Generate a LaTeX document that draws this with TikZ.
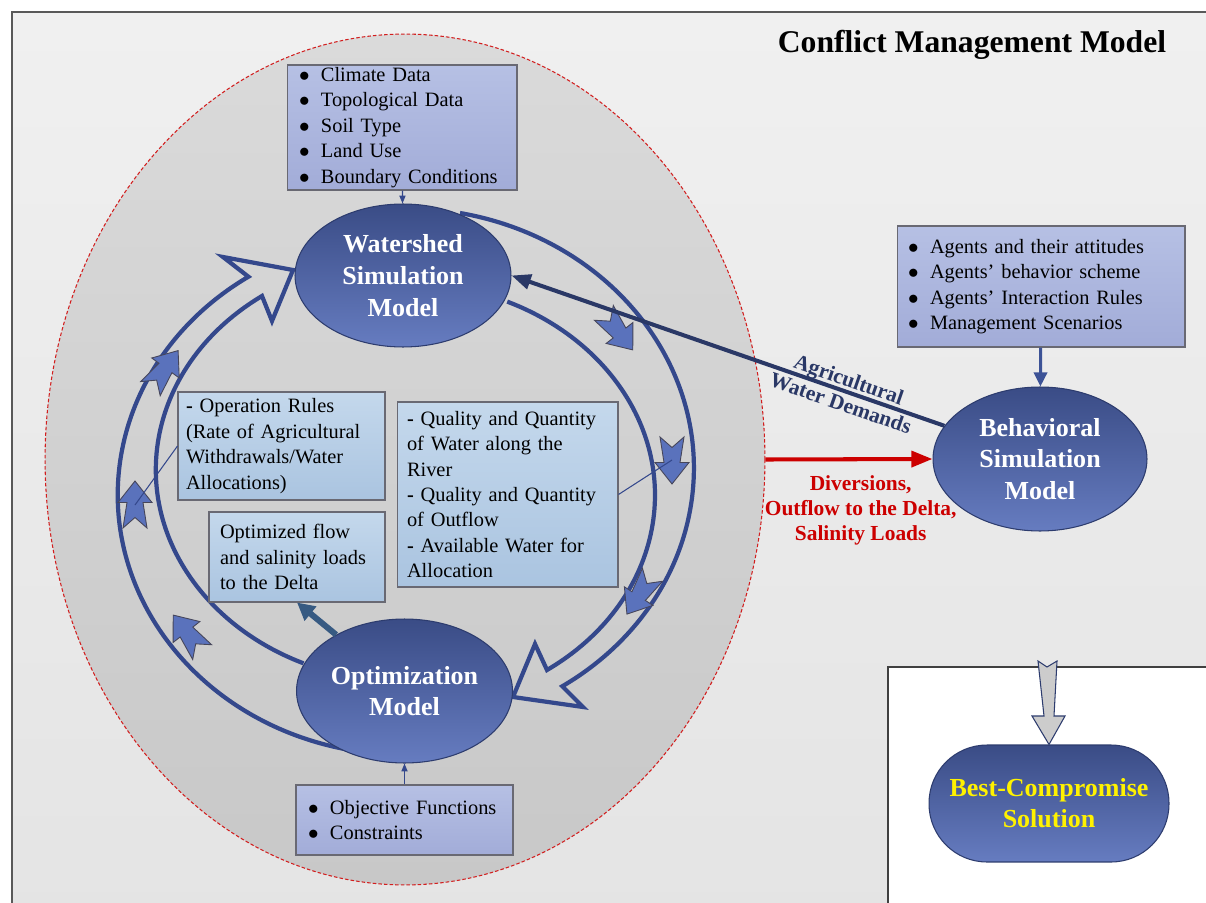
\documentclass[tikz,border=0pt]{standalone}
\usepackage{fontspec}
\setmainfont{Liberation Serif}
\usetikzlibrary{arrows.meta,shapes.geometric}

\definecolor{ring}{RGB}{52,72,140}
\definecolor{modline}{RGB}{45,60,110}
\definecolor{modtop}{RGB}{58,76,134}
\definecolor{modbot}{RGB}{102,124,192}
\definecolor{navy}{RGB}{42,56,102}
\definecolor{lavtop}{RGB}{182,192,228}
\definecolor{lavbot}{RGB}{162,172,216}
\definecolor{skytop}{RGB}{196,216,236}
\definecolor{skybot}{RGB}{170,196,224}
\definecolor{boxline}{RGB}{105,105,115}
\definecolor{chev}{RGB}{90,114,188}
\definecolor{chevline}{RGB}{70,70,90}
\definecolor{divred}{RGB}{204,0,0}
\definecolor{steel}{RGB}{55,90,130}
\definecolor{agentblue}{RGB}{60,82,150}
\definecolor{framtop}{RGB}{240,240,240}
\definecolor{frambot}{RGB}{228,228,228}
\definecolor{basintop}{RGB}{218,218,218}
\definecolor{basinbot}{RGB}{200,200,200}
\definecolor{basinred}{RGB}{210,30,30}

\newcommand{\bul}{\makebox[12.5pt][l]{$\bullet$}}
\newcommand{\flowmark}[3]{%
	\coordinate (#1) at (#2);
	\draw[chevron,shift={(#2)},rotate=#3] (24,0) -- (2.5,17) -- (2.5,8) -- (-23,12) -- (-12.5,0) -- (-23,-12) -- (2.5,-8) -- (2.5,-17) -- cycle;}

\begin{document}
\begin{tikzpicture}
	[x=0.02cm,y=-0.02cm,
	model/.style={ellipse,draw=modline,line width=0.6pt,top color=modtop,bottom color=modbot,inner sep=0pt,text=white,align=center,font=\bfseries\fontsize{14.8}{18.1}\selectfont},
	listbox/.style={rectangle,draw=boxline,line width=0.6pt,top color=lavtop,bottom color=lavbot,inner ysep=0pt,align=left,font=\fontsize{11.6}{14.5}\selectfont},
	notebox/.style={listbox,top color=skytop,bottom color=skybot},
	ringline/.style={draw=ring,line width=2.4pt,line join=miter},
	chevron/.style={fill=chev,draw=chevline,line width=0.5pt,line join=miter},
	callout/.style={draw=ring,line width=0.6pt},
	feed/.style={draw=ring,line width=0.7pt,-{Triangle[length=4.5pt,width=3.5pt]}}]
	\useasboundingbox (0,0) rectangle (1206,902);
	\clip (0,0) rectangle (1206,902);
	\draw[draw=black!65,line width=0.8pt,top color=framtop,bottom color=frambot] (12,12) rectangle (1230,930);
	\draw[draw=black!75,fill=white,line width=0.8pt] (888,667) rectangle (1230,930);
	\node (title)[font=\bfseries\fontsize{18}{22}\selectfont] at (972,45) {Conflict Management Model};
	\node (basin)[ellipse,draw=basinred,dash pattern=on 2pt off 1.2pt,line width=0.6pt,top color=basintop,bottom color=basinbot,minimum width=14.4cm,minimum height=17.02cm] at (405,459.5) {};

	\draw[ringline] (350,750) arc[start angle=101,end angle=237,x radius=287,y radius=260] -- (223,257) -- (293,270) -- (272,321) -- (262,296) arc[start angle=235,end angle=114,x radius=249,y radius=212];
	\draw[ringline] (460,213) arc[start angle=-79,end angle=57,x radius=289,y radius=260] -- (583,707) -- (513,697) -- (535,644) -- (547,670) arc[start angle=55.5,end angle=-66,x radius=249,y radius=212];

	\flowmark{a1}{164,370}{54}
	\flowmark{a2}{135,505}{90}
	\flowmark{a3}{188,634}{128}
	\flowmark{a4}{618,331}{-52}
	\flowmark{a5}{672,460}{-90}
	\flowmark{a6}{640,594}{-123}

	\node (climate)[listbox,text width=4.12cm,inner xsep=0.24cm,minimum height=2.5cm] at (402,127.5) {\bul Climate Data\\
									\bul Topological Data\\
									\bul Soil Type\\
									\bul Land Use\\
									\bul Boundary Conditions};
	\node (agents)[listbox,text width=5.32cm,inner xsep=0.22cm,minimum height=2.42cm] at (1041,286.5) {\bul Agents and their attitudes\\
									\bul Agents’ behavior scheme\\
									\bul Agents’ Interaction Rules\\
									\bul Management Scenarios};
	\node (obj)[listbox,text width=3.86cm,inner xsep=0.24cm,minimum height=1.4cm] at (404.5,820) {\bul Objective Functions\\
									\bul Constraints};
	\node (oprules)[notebox,text width=3.82cm,inner xsep=0.16cm,minimum height=2.16cm] at (281.5,446) {\textbf{-} Operation Rules\\
									(Rate of Agricultural\\
									Withdrawals/Water\\
									Allocations)};
	\node (optflow)[notebox,text width=3.08cm,inner xsep=0.22cm,minimum height=1.8cm] at (297,557) {Optimized flow\\
									and salinity loads\\
									to the Delta};
	\node (quality)[notebox,text width=4.02cm,inner xsep=0.2cm,minimum height=3.7cm] at (507.5,494.5) {\textbf{-} Quality and Quantity\\
									of Water along the\\
									River\\
									\textbf{-} Quality and Quantity\\
									of Outflow\\
									\textbf{-} Available Water for\\
									Allocation};

	\draw[callout] (oprules.west) -- (a2);
	\draw[callout] (quality.east) -- (a5);

	\node (ws)[model,minimum width=4.32cm,minimum height=2.86cm] at (403,275.5) {Watershed\\Simulation\\Model};
	\node (beh)[model,minimum width=4.28cm,minimum height=2.88cm] at (1040,459) {Behavioral\\Simulation\\Model};
	\node (opt)[model,minimum width=4.32cm,minimum height=2.88cm] at (404.5,691) {Optimization\\Model};
	\node (best)[draw=modline,line width=0.6pt,top color=modtop,bottom color=modbot,rounded corners=1.16cm,minimum width=4.8cm,minimum height=2.34cm,text=yellow,align=center,font=\bfseries\fontsize{14.8}{17.6}\selectfont] at (1049,803.5) {Best-Compromise\\Solution};

	\draw[feed] (climate) -- (ws);
	\draw[feed] (obj) -- (opt);
	\draw[draw=agentblue,line width=1.7pt,-{Triangle[length=8pt,width=7.5pt]}] (agents) -- (beh);
	\draw[draw=steel,line width=3.4pt,-{Triangle[length=10pt,width=10pt]}] (opt) -- (optflow.south);
	\draw[draw=navy,line width=2.3pt,-{Triangle[length=11pt,width=8.5pt]}] (beh) -- node[pos=0.23,sloped,align=center,text=navy,font=\bfseries\fontsize{12.2}{14.2}\selectfont] {Agricultural\\Water Demands} (ws.east);
	\draw[draw=divred,line width=2.3pt,-{Triangle[length=12pt,width=9pt]}] (basin.east) -- node[pos=0.57,below=8pt,inner sep=0pt,align=center,text=divred,font=\bfseries\fontsize{12.2}{14.2}\selectfont] {Diversions,\\Outflow to the Delta,\\Salinity Loads} (beh.west);
	\draw[draw=modline,fill=black!20,line width=0.6pt] (1038,661) -- (1047,667) -- (1057,661) -- (1054,716) -- (1065,716) -- (best.north) -- (1032,716) -- (1044,716) -- cycle;
\end{tikzpicture}
\end{document}
